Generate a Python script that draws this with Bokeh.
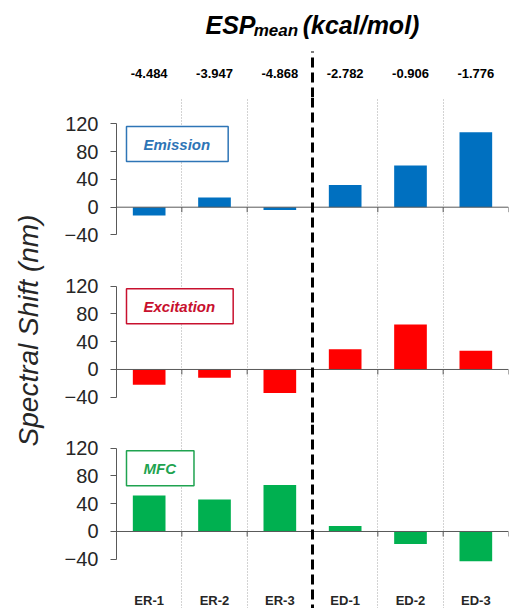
import math
from bokeh.plotting import figure
from bokeh.models import Range1d, FixedTicker, Grid, Span, Label, ColumnDataSource
from bokeh.layouts import row, column
from bokeh.embed import file_html
from bokeh.resources import INLINE
from bokeh.core.properties import value

# ---------------- data ----------------
categories = ["ER-1", "ER-2", "ER-3", "ED-1", "ED-2", "ED-3"]
esp_mean = ["-4.484", "-3.947", "-4.868", "-2.782", "-0.906", "-1.776"]
emission = [-12, 14, -4, 32, 60, 108]
excitation = [-22, -12, -34, 29, 65, 27]
mfc = [52, 46, 67, 8, -18, -43]
y_ticks = [-40, 0, 40, 80, 120]
panel_names = ["Emission", "Excitation", "MFC"]
n_er = 3  # number of ER compounds (left of the dashed divider)

# ---------------- styling ----------------
FONT = "Liberation Sans"
bar_colors = ["#0070C0", "#FF0000", "#00B050"]
text_colors = ["#2E75B6", "#C8102E", "#1FA350"]
AXIS_COL = "#595959"

xpos = [i + 0.5 for i in range(len(categories))]
x_range = Range1d(0, len(categories))
boundaries = [i for i in range(1, len(categories)) if i != n_er]
tick_pos = list(range(1, len(categories) + 1))

LEFT = 58
RIGHT = 1
W = 451
PX = 0.694  # pixels per data unit in the panels

# ---------------- header ----------------
hdr = figure(width=W, height=97, x_range=x_range, y_range=Range1d(0, 97),
             output_backend="svg", toolbar_location=None,
             x_axis_location=None, y_axis_location=None,
             min_border=0, min_border_left=LEFT, min_border_right=RIGHT)
hdr.grid.visible = False
hdr.outline_line_color = None
hdr.segment(x0=[n_er], y0=[0], x1=[n_er], y1=[46], line_color="black",
            line_width=3, line_dash="10 5")
hdr.text(x=xpos, y=[24] * len(xpos), text=esp_mean, text_align="center",
         text_baseline="middle", text_font=value(FONT), text_font_style="bold",
         text_font_size="13px", text_color="black")
for txt, xx, yy, sz in [("ESP", 1.362, 73, "25px"), ("mean", 2.10, 67, "17px"),
                        ("(kcal/mol)", 2.85, 73, "25px")]:
    hdr.add_layout(Label(x=xx, y=yy, text=txt, text_font=FONT, text_font_style="bold italic",
                         text_font_size=sz, text_color="black", text_align="left",
                         text_baseline="alphabetic"))

# ---------------- panels ----------------
series = [emission, excitation, mfc]
ranges = [(-79.7, 158.1), (-79.3, 154.2), (-111.0, 154.2)]
heights = [165, 162, 184]
panels = []
for k, vals in enumerate(series):
    p = figure(width=W, height=heights[k], x_range=x_range,
               y_range=Range1d(*ranges[k]), output_backend="svg",
               toolbar_location=None, x_axis_location=None,
               min_border=0, min_border_left=LEFT, min_border_right=RIGHT)
    p.grid.visible = False
    p.outline_line_color = None
    p.background_fill_color = "white"

    g = Grid(dimension=0, ticker=FixedTicker(ticks=boundaries),
             grid_line_color="#A6A6A6", grid_line_dash="1 2", grid_line_width=1)
    p.add_layout(g, "center")

    src = ColumnDataSource(dict(x=xpos, top=vals))
    p.vbar(x="x", top="top", bottom=0, width=0.5, source=src,
           fill_color=bar_colors[k], line_color=None)

    # zero (category) axis line with tick marks between categories
    p.add_layout(Span(location=0, dimension="width", line_color=AXIS_COL, line_width=1))
    p.segment(x0=tick_pos, y0=[0] * len(tick_pos), x1=tick_pos,
              y1=[-5 / PX] * len(tick_pos), line_color=AXIS_COL, line_width=1)

    p.add_layout(Span(location=n_er, dimension="height", line_color="black",
                      line_width=3, line_dash="10 5"))

    ya = p.yaxis[0]
    ya.ticker = FixedTicker(ticks=y_ticks)
    ya.bounds = (min(y_ticks), max(y_ticks))
    ya.axis_line_color = AXIS_COL
    ya.major_tick_line_color = AXIS_COL
    ya.major_tick_in = 0
    ya.major_tick_out = 6
    ya.minor_tick_line_color = None
    ya.major_label_text_font = FONT
    ya.major_label_text_font_size = "20px"
    ya.major_label_text_color = "#262626"
    ya.major_label_standoff = 12

    p.add_layout(Label(x=0.153, y=91, text=panel_names[k], text_font=FONT,
                       text_font_style="bold italic", text_font_size="15px",
                       text_color=text_colors[k], text_align="left", text_baseline="middle",
                       border_line_color=text_colors[k], border_line_width=1.5,
                       background_fill_color="white",
                       padding=dict(left=17, right=18, top=9, bottom=9)))
    panels.append(p)

# category labels at bottom of last panel
panels[-1].text(x=xpos, y=[-99.4] * len(xpos), text=categories, text_align="center",
                text_baseline="middle", text_font=value(FONT), text_font_style="bold",
                text_font_size="13px", text_color="#262626")

# ---------------- y-axis title ----------------
lab = figure(width=58, height=608, x_range=Range1d(0, 58), y_range=Range1d(0, 608),
             output_backend="svg", toolbar_location=None,
             x_axis_location=None, y_axis_location=None, min_border=0)
lab.grid.visible = False
lab.outline_line_color = None
lab.add_layout(Label(x=28, y=278, text="Spectral Shift (nm)", angle=math.pi / 2,
                     text_font=FONT, text_font_style="italic", text_font_size="28px",
                     text_color="#262626", text_align="center", text_baseline="middle"))

layout = row(lab, column(hdr, *panels))
open("out.html", "w").write(file_html(layout, INLINE))
